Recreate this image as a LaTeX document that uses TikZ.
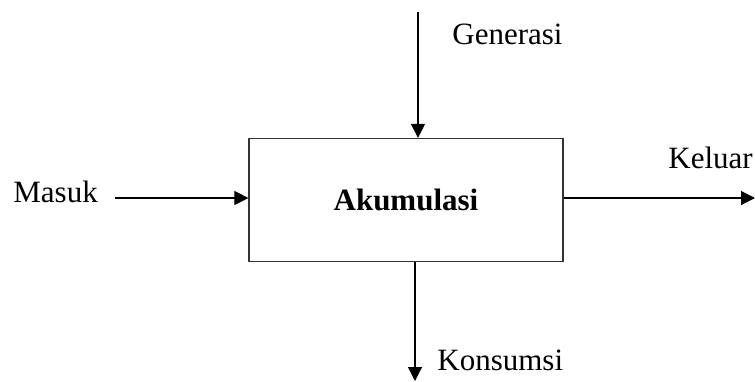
\documentclass[tikz,border=0pt]{standalone}
\usepackage{fontspec}
\setmainfont{Liberation Serif}
\usetikzlibrary{arrows.meta}

\tikzset{
    proses/.style={draw=black!80, line width=0.6pt, minimum width=157pt, minimum height=61.5pt, inner sep=0pt},
    label/.style={inner sep=0pt, anchor=base west, font=\fontsize{15.5}{18}\selectfont},
    aliran/.style={line width=0.55pt, -{Triangle[length=7pt, width=7pt]}}
}

\begin{document}
\begin{tikzpicture}[x=0.5pt, y=-0.5pt]
    \useasboundingbox (0,0) rectangle (755,381);

    \node[proses, font=\fontsize{15.5}{18}\selectfont\bfseries] (akum) at (406,200) {Akumulasi};

    \node[label] (generasi) at (452,44) {Generasi};
    \node[label] (masuk)    at (13,202) {Masuk};
    \node[label] (keluar)   at (668,168) {Keluar};
    \node[label] (konsumsi) at (437,370) {Konsumsi};

    \coordinate (gen-in)  at (418,12);
    \coordinate (masuk-in) at (115,198);
    \coordinate (kel-out) at (755,198);
    \coordinate (kon-out) at (415,381);

    \draw[aliran] (gen-in) -- (gen-in |- akum.north);
    \draw[aliran] (masuk-in) -- (masuk-in -| akum.west);
    \draw[aliran] (akum.east |- kel-out) -- (kel-out);
    \draw[aliran] (kon-out |- akum.south) -- (kon-out);
\end{tikzpicture}
\end{document}
